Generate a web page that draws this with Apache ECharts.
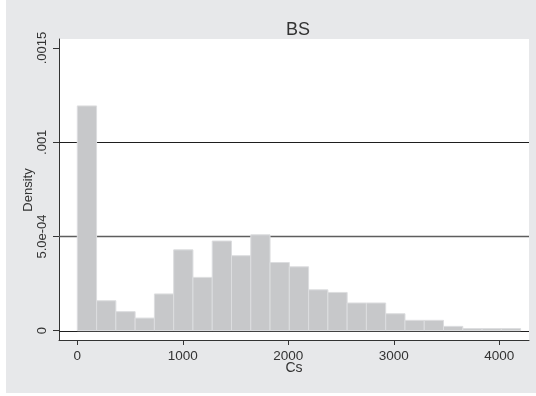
<!DOCTYPE html>
<html>
<head>
<meta charset="utf-8">
<script src="https://cdn.jsdelivr.net/npm/echarts@6/dist/echarts.min.js"></script>
<style>
  html, body { margin: 0; padding: 0; background: #ffffff; }
  #wrap { position: relative; width: 536px; height: 396px; background: #ffffff; }
  #panel { position: absolute; left: 6px; top: 0; width: 530px; height: 393px; background: #e7e8ea; }
  #chart { position: absolute; left: 0; top: 0; width: 536px; height: 396px; }
</style>
</head>
<body>
<div id="wrap"><div id="panel"></div><div id="chart"></div></div>
<script>
// ---- data ----
const chartTitle = 'BS';
const xTitle = 'Cs';
const yTitle = 'Density';
const binStart = 0;
const binWidth = 182.7;
const densities = [0.001193, 0.000159, 0.000101, 0.000067, 0.000195, 0.000429, 0.000283,
  0.000476, 0.000398, 0.000509, 0.000362, 0.000339, 0.000217, 0.000203, 0.000147,
  0.000147, 0.00009, 0.000055, 0.000055, 0.000023, 0.000011, 0.000011, 0.000011];
const xTicks = [0, 1000, 2000, 3000, 4000];
const yTicks = [0, 0.0005, 0.001, 0.0015];
const yTickLabels = ['0', '5.0e-04', '.001', '.0015'];
const gridValues = [0, 0.0005, 0.001];

const binData = densities.map((d, i) => [binStart + i * binWidth, binStart + (i + 1) * binWidth, d]);
const gridData = gridValues.map(v => [0, v]);

const font = '"Liberation Sans", Arial, Helvetica, sans-serif';
const txt = '#333333';

const chart = echarts.init(document.getElementById('chart'), null, { renderer: 'canvas' });
chart.setOption({
  backgroundColor: 'transparent',
  animation: false,
  title: {
    text: chartTitle,
    left: 293,
    top: 16,
    textAlign: 'center',
    textStyle: { fontFamily: font, fontSize: 18, fontWeight: 'normal', color: txt }
  },
  grid: {
    left: 59, right: 7, top: 39, bottom: 56,
    show: true, backgroundColor: '#ffffff', borderWidth: 0
  },
  xAxis: {
    type: 'value',
    min: -173.5,
    max: 4281.5,
    name: xTitle,
    nameLocation: 'middle',
    nameGap: 21,
    nameMoveOverlap: false,
    nameTextStyle: { fontFamily: font, fontSize: 14, color: txt, verticalAlign: 'top' },
    axisLine: { show: true, onZero: false, lineStyle: { color: '#333', width: 1 } },
    axisTick: { show: true, length: 5, customValues: xTicks, lineStyle: { color: '#333' } },
    axisLabel: { customValues: xTicks, margin: 9, fontFamily: font, fontSize: 13.5, color: txt,
      formatter: v => String(v) },
    splitLine: { show: false }
  },
  yAxis: {
    type: 'value',
    min: -0.0000494,
    max: 0.0015483,
    axisLine: { show: true, onZero: false, lineStyle: { color: '#333', width: 1 } },
    axisTick: { show: true, length: 6, customValues: yTicks, lineStyle: { color: '#333' } },
    axisLabel: {
      customValues: yTicks, rotate: 90, margin: 10,
      fontFamily: font, fontSize: 13, color: txt,
      formatter: v => {
        const i = yTicks.findIndex(t => Math.abs(t - v) < 1e-9);
        return i >= 0 ? yTickLabels[i] : '';
      }
    },
    splitLine: { show: false }
  },
  graphic: [{
    type: 'text',
    x: 28, y: 190,
    rotation: Math.PI / 2,
    style: { text: yTitle, fontFamily: font, fontSize: 13, fill: txt, align: 'center', verticalAlign: 'middle' }
  }],
  series: [
    {
      type: 'custom',
      z: 1,
      silent: true,
      data: gridData,
      encode: { x: 0, y: 1 },
      renderItem: function (params, api) {
        const p = api.coord([api.value(0), api.value(1)]);
        const cs = params.coordSys;
        const i = params.dataIndex;
        const y = Math.round(p[1]) + 0.5;
        return {
          type: 'line',
          shape: { x1: cs.x, y1: y, x2: cs.x + cs.width, y2: y },
          style: { stroke: i === 1 ? '#5e5e5e' : '#1e1e1e', lineWidth: i === 1 ? 1.6 : 1.2 }
        };
      }
    },
    {
      type: 'custom',
      z: 3,
      data: binData,
      encode: { x: [0, 1], y: 2 },
      renderItem: function (params, api) {
        const p0 = api.coord([api.value(0), api.value(2)]);
        const p1 = api.coord([api.value(1), 0]);
        return {
          type: 'rect',
          shape: { x: p0[0], y: p0[1], width: p1[0] - p0[0], height: p1[1] - p0[1] },
          style: { fill: '#c7c8ca', stroke: '#dcdddf', lineWidth: 1 }
        };
      }
    }
  ]
});
</script>
</body>
</html>
